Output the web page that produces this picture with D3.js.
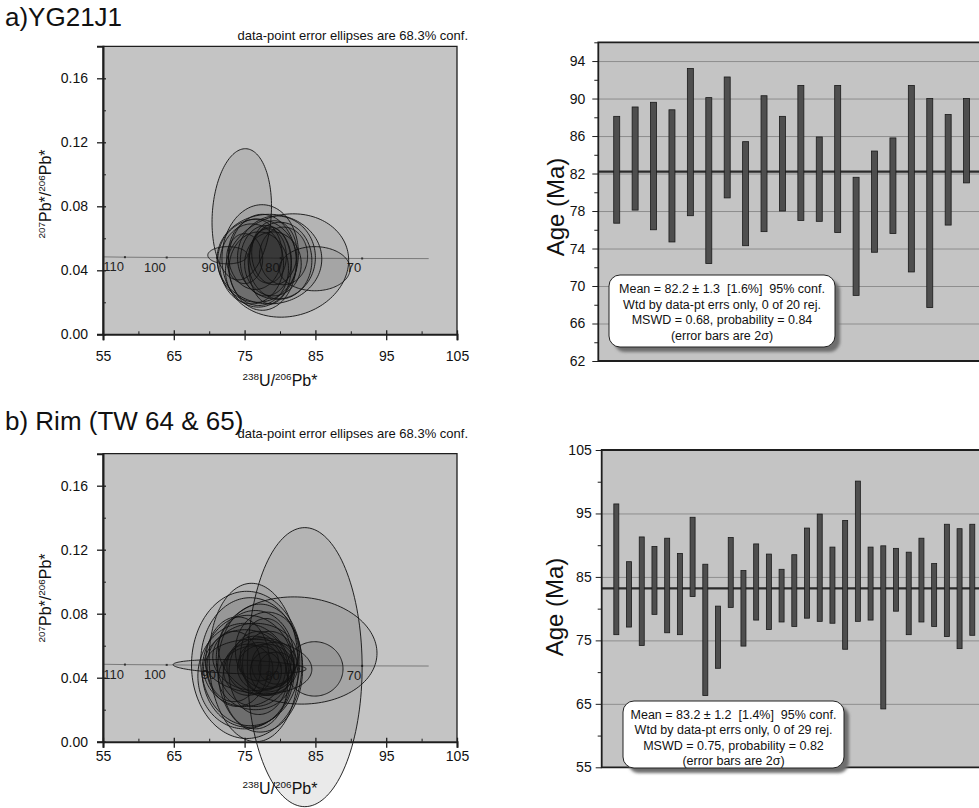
<!DOCTYPE html>
<html>
<head>
<meta charset="utf-8">
<script src="https://cdn.jsdelivr.net/npm/d3@7"></script>
<style>
  body { margin: 0; background: #fff; }
  svg { font-family: "Liberation Sans", Arial, sans-serif; }
</style>
</head>
<body>
<svg id="chart" width="979" height="808"></svg>
<script>
const svg = d3.select('#chart');

// ---- Tera-Wasserburg axes (both left panels) ----
const uTicks = [55, 65, 75, 85, 95, 105];
const uMinor = [60, 70, 80, 90, 100];
const pbTicks = [0.00, 0.04, 0.08, 0.12, 0.16];
const pbMinor = [0.02, 0.06, 0.10, 0.14];

// concordia curve (238U/206Pb, 207Pb/206Pb) and age marks
const concU = [55, 58.1, 64.0, 71.1, 80.1, 91.6, 101.0];
const concPb = [0.0484, 0.0482, 0.0480, 0.0478, 0.0476, 0.0474, 0.0473];
const markAges = [110, 100, 90, 80, 70];
const markU = [58.1, 64.0, 71.1, 80.1, 91.6];
const markPb = [0.0482, 0.0480, 0.0478, 0.0476, 0.0474];

// error ellipses: [238U/206Pb, 207Pb/206Pb, err U/Pb, err Pb/Pb, rho]
const ellipsesA = [
  [74.6, 0.075, 4.2, 0.041, 0.12],
  [81.0, 0.043, 8.7, 0.0323, 0.1],
  [84.9, 0.041, 5.0, 0.0138, 0],
  [72.6, 0.0494, 2.8, 0.0054, 0],
  [75.0, 0.0473, 2.55, 0.0156, 0],
  [77.2, 0.049, 5.4, 0.032, 0.05],
  [78.5, 0.047, 7.4, 0.028, 0],
  [77.5, 0.045, 4.8, 0.030, 0],
  [79.5, 0.048, 5.5, 0.026, 0],
  [76.0, 0.044, 4.5, 0.025, 0],
  [78.0, 0.046, 3.6, 0.022, 0],
  [79.0, 0.044, 4.0, 0.020, 0],
  [76.5, 0.050, 3.8, 0.022, 0],
  [78.3, 0.049, 2.6, 0.017, 0],
  [80.0, 0.046, 4.5, 0.024, 0],
  [77.0, 0.041, 4.2, 0.023, 0],
  [79.2, 0.051, 3.2, 0.020, 0],
  [76.8, 0.046, 5.6, 0.026, 0],
  [78.6, 0.043, 3.0, 0.024, 0],
  [80.5, 0.049, 3.4, 0.018, 0]
];

const ellipsesB = [
  [83.5, 0.0466, 8.1, 0.0872, 0],
  [82.5, 0.057, 11.2, 0.0335, -0.05],
  [84.9, 0.0455, 4.0, 0.017, 0],
  [74.3, 0.0468, 9.4, 0.0045, -0.3],
  [75.3, 0.048, 7.8, 0.046, 0],
  [76.3, 0.0495, 6.3, 0.0495, -0.05],
  [77.0, 0.047, 7.5, 0.017, -0.1],
  [75.8, 0.050, 7.0, 0.040, 0],
  [76.5, 0.052, 5.5, 0.030, 0],
  [75.5, 0.044, 6.5, 0.035, 0],
  [77.5, 0.047, 5.0, 0.018, 0],
  [78.0, 0.046, 4.0, 0.015, 0],
  [75.0, 0.046, 5.8, 0.024, 0],
  [76.5, 0.053, 6.0, 0.021, 0],
  [78.5, 0.049, 3.8, 0.020, 0],
  [77.0, 0.043, 4.2, 0.026, 0],
  [79.0, 0.048, 3.0, 0.014, 0],
  [74.0, 0.050, 4.5, 0.028, 0],
  [76.5, 0.040, 5.2, 0.020, 0],
  [78.0, 0.053, 3.6, 0.024, 0],
  [75.5, 0.045, 3.5, 0.016, 0],
  [77.0, 0.050, 2.8, 0.012, 0],
  [79.5, 0.046, 2.5, 0.010, 0],
  [76.5, 0.037, 4.6, 0.029, 0],
  [73.5, 0.047, 3.8, 0.022, 0],
  [78.2, 0.057, 4.5, 0.024, 0],
  [77.2, 0.046, 6.0, 0.040, 0],
  [75.0, 0.041, 6.6, 0.033, 0],
  [78.0, 0.044, 2.2, 0.012, 0]
];

// ---- weighted mean ages (right panels), 2 sigma bars ----
const ageLoA = [76.7, 78.1, 76.0, 74.7, 77.5, 72.4, 79.4, 74.3, 75.8, 78.0,
                77.0, 76.9, 75.7, 69.0, 73.6, 75.6, 71.5, 67.7, 76.5, 81.0];
const ageHiA = [88.1, 89.1, 89.6, 88.8, 93.2, 90.1, 92.3, 85.4, 90.3, 88.1,
                91.4, 85.9, 91.4, 81.6, 84.4, 85.8, 91.4, 90.0, 88.3, 90.0];
const meanA = 82.2;
const yTicksA = [62, 66, 70, 74, 78, 82, 86, 90, 94];
const yMinorA = [64, 68, 72, 76, 80, 84, 88, 92, 96];
const statsA = ['Mean = 82.2 \u00b1 1.3  [1.6%]  95% conf.',
                'Wtd by data-pt errs only, 0 of 20 rej.',
                'MSWD = 0.68, probability = 0.84',
                '(error bars are 2\u03c3)'];

const ageLoB = [75.9, 77.1, 74.2, 79.1, 76.2, 75.9, 81.9, 66.3, 70.6, 80.2,
                74.1, 78.2, 76.7, 77.9, 77.2, 78.5, 78.0, 77.7, 73.6, 78.0,
                78.2, 64.2, 79.6, 75.9, 77.9, 77.2, 75.6, 73.7, 75.8];
const ageHiB = [96.5, 87.4, 91.3, 89.8, 91.1, 88.7, 94.4, 87.0, 80.4, 91.2,
                86.0, 90.2, 88.6, 86.2, 88.5, 92.7, 94.9, 89.7, 93.9, 100.1,
                89.7, 89.9, 89.5, 88.9, 91.1, 87.1, 93.3, 92.6, 93.3];
const meanB = 83.2;
const yTicksB = [55, 65, 75, 85, 95, 105];
const yMinorB = [60, 70, 80, 90, 100];
const statsB = ['Mean = 83.2 \u00b1 1.2  [1.4%]  95% conf.',
                'Wtd by data-pt errs only, 0 of 29 rej.',
                'MSWD = 0.75, probability = 0.82',
                '(error bars are 2\u03c3)'];

const PLOT_BG = '#c4c4c4';
const INK = '#1e1e1e';

// blur for the stats box shadow
svg.append('defs').append('filter').attr('id', 'blur')
  .append('feGaussianBlur').attr('stdDeviation', 1.6);

// superscript helper: parts = [[text, isSup], ...]
function supText(sel, parts, size) {
  parts.forEach(([t, sup], i) => {
    const prev = i > 0 && parts[i - 1][1];
    sel.append('tspan')
      .attr('font-size', sup ? size * 0.62 : size)
      .attr('dy', sup ? (prev ? 0 : -size * 0.38) : (prev ? size * 0.38 : 0))
      .text(t);
  });
}

// ---------- Tera-Wasserburg panel ----------
function drawTW(cfg) {
  const x = d3.scaleLinear().domain([55, 105]).range([103, 457]);
  const y = d3.scaleLinear().domain([0, 0.18]).range([cfg.y0, cfg.y0 - 288]);
  const g = svg.append('g');

  g.append('text').attr('x', 5).attr('y', cfg.titleY)
    .attr('font-size', 26).attr('fill', '#111').text(cfg.title);
  g.append('text').attr('x', 468).attr('y', cfg.noteY)
    .attr('text-anchor', 'end').attr('font-size', 13).attr('fill', '#111')
    .text('data-point error ellipses are 68.3% conf.');

  g.append('rect').attr('x', x(55)).attr('y', y(0.18))
    .attr('width', x(105) - x(55)).attr('height', y(0) - y(0.18))
    .attr('fill', PLOT_BG);

  // concordia
  const conc = concU.map((u, i) => [x(u), y(concPb[i])]);
  g.append('path').attr('d', d3.line()(conc))
    .attr('fill', 'none').attr('stroke', '#7a7a7a').attr('stroke-width', 1);
  g.selectAll('.mark').data(markAges).join('rect')
    .attr('x', (d, i) => x(markU[i]) - 1).attr('y', (d, i) => y(markPb[i]) - 1)
    .attr('width', 2).attr('height', 2).attr('fill', '#333');
  g.selectAll('.age').data(markAges).join('text')
    .attr('x', (d, i) => x(markU[i]) - 1).attr('y', (d, i) => y(markPb[i]) + 14)
    .attr('text-anchor', 'end').attr('font-size', 13).attr('fill', '#222')
    .text(d => d);

  // error ellipses
  const line = d3.line().curve(d3.curveLinearClosed);
  const steps = d3.range(0, 2 * Math.PI, Math.PI / 72);
  g.selectAll('.ell').data(cfg.ellipses).join('path')
    .attr('d', ([u, pb, su, spb, rho]) => line(steps.map(t => [
      x(u + su * Math.cos(t)),
      y(pb + spb * (rho * Math.cos(t) + Math.sqrt(1 - rho * rho) * Math.sin(t)))
    ])))
    .attr('fill', '#1a1a1a').attr('fill-opacity', 0.09)
    .attr('stroke', '#111').attr('stroke-width', 0.9);

  // frame
  g.append('path')
    .attr('d', `M${x(55)},${y(0)}V${y(0.18)}H${x(105)}V${y(0)}`)
    .attr('fill', 'none').attr('stroke', INK).attr('stroke-width', 1.3);

  // x axis
  const xa = g.append('g').attr('transform', `translate(0,${y(0)})`)
    .call(d3.axisBottom(x).tickValues(uTicks).tickSize(6).tickFormat(d3.format('d')));
  xa.select('.domain').attr('stroke', INK).attr('stroke-width', 2);
  xa.selectAll('.tick line').attr('y1', -4).attr('stroke', INK).attr('stroke-width', 1.3);
  xa.selectAll('.tick text').attr('y', cfg.xLabOff).attr('dy', 0)
    .attr('font-size', 14).attr('font-family', 'Liberation Sans, Arial, sans-serif').attr('fill', '#111');
  g.append('g').attr('transform', `translate(0,${y(0)})`)
    .call(d3.axisBottom(x).tickValues(uMinor).tickSize(-3).tickFormat(''))
    .call(a => a.select('.domain').remove())
    .selectAll('line').attr('stroke', INK);

  // y axis
  const ya = g.append('g').attr('transform', `translate(${x(55)},0)`)
    .call(d3.axisLeft(y).tickValues(pbTicks).tickSize(6).tickPadding(9).tickFormat(d3.format('.2f')));
  ya.select('.domain').attr('stroke', INK).attr('stroke-width', 2);
  ya.selectAll('.tick line').attr('x1', 3).attr('stroke', INK).attr('stroke-width', 1.3);
  ya.selectAll('.tick text').attr('font-size', 14)
    .attr('font-family', 'Liberation Sans, Arial, sans-serif').attr('fill', '#111');
  g.append('g').attr('transform', `translate(${x(55)},0)`)
    .call(d3.axisLeft(y).tickValues(pbMinor).tickSize(-3).tickFormat(''))
    .call(a => a.select('.domain').remove())
    .selectAll('line').attr('stroke', INK);

  // axis titles
  const yt = g.append('text').attr('transform', `translate(51,${cfg.yTitleY}) rotate(-90)`)
    .attr('text-anchor', 'middle').attr('fill', '#111');
  supText(yt, [['207', true], ['Pb*/', false], ['206', true], ['Pb*', false]], 16);
  const xt = g.append('text').attr('x', 280).attr('y', cfg.xTitleY)
    .attr('text-anchor', 'middle').attr('fill', '#111');
  supText(xt, [['238', true], ['U/', false], ['206', true], ['Pb*', false]], 16);
}

// ---------- weighted mean age panel ----------
function drawAges(cfg) {
  const n = cfg.lo.length;
  const x = d3.scaleLinear().domain(cfg.xDom).range([cfg.left, 985]);
  const y = d3.scaleLinear().domain(cfg.yDom).range(cfg.yRange);
  const g = svg.append('g');
  const [yb, yt] = cfg.yRange;

  g.append('rect').attr('x', cfg.left).attr('y', yt)
    .attr('width', 985 - cfg.left).attr('height', yb - yt).attr('fill', PLOT_BG);

  // gridlines
  g.append('g').attr('transform', `translate(${cfg.left},0)`)
    .call(d3.axisLeft(y).tickValues(cfg.ticks.slice(1)).tickSize(-(985 - cfg.left)).tickFormat(''))
    .call(a => a.select('.domain').remove())
    .selectAll('line').attr('stroke', '#8e8e8e').attr('stroke-width', 1);

  // mean
  g.append('line').attr('x1', cfg.left).attr('x2', 985)
    .attr('y1', y(cfg.mean)).attr('y2', y(cfg.mean))
    .attr('stroke', '#2b2b2b').attr('stroke-width', 2.2);

  // 2 sigma bars
  g.selectAll('.bar').data(d3.range(n)).join('rect')
    .attr('x', i => x(i + 1) - cfg.barW / 2).attr('width', cfg.barW)
    .attr('y', i => y(cfg.hi[i])).attr('height', i => y(cfg.lo[i]) - y(cfg.hi[i]))
    .attr('fill', '#4e4e4e').attr('stroke', '#1a1a1a').attr('stroke-width', 0.8);

  // frame: top, left, bottom
  g.append('path').attr('d', `M985,${yt}H${cfg.left}V${yb}H985`)
    .attr('fill', 'none').attr('stroke', INK).attr('stroke-width', 1.8);

  const ya = g.append('g').attr('transform', `translate(${cfg.left},0)`)
    .call(d3.axisLeft(y).tickValues(cfg.ticks).tickSize(6).tickPadding(cfg.pad));
  ya.select('.domain').remove();
  ya.selectAll('.tick line').attr('stroke', INK);
  ya.selectAll('.tick text').attr('font-size', 14)
    .attr('font-family', 'Liberation Sans, Arial, sans-serif').attr('fill', '#111');
  g.append('g').attr('transform', `translate(${cfg.left},0)`)
    .call(d3.axisLeft(y).tickValues(cfg.minor).tickSize(4).tickFormat(''))
    .call(a => a.select('.domain').remove())
    .selectAll('line').attr('stroke', INK);

  g.append('text').attr('transform', `translate(${cfg.titleX},${cfg.titleY}) rotate(-90)`)
    .attr('text-anchor', 'middle').attr('font-size', 24).attr('fill', '#111')
    .text('Age (Ma)');

  // stats box
  const b = cfg.box;
  g.append('rect').attr('x', b.x + 5).attr('y', b.y + 5).attr('width', b.w).attr('height', b.h)
    .attr('rx', 11).attr('fill', '#6e6e6e').attr('filter', 'url(#blur)');
  g.append('rect').attr('x', b.x).attr('y', b.y).attr('width', b.w).attr('height', b.h)
    .attr('rx', 11).attr('fill', '#fff').attr('stroke', '#222').attr('stroke-width', 1);
  g.selectAll('.stat').data(cfg.stats).join('text')
    .attr('x', b.x + b.w / 2).attr('y', (d, i) => b.y + 18 + i * b.step)
    .attr('text-anchor', 'middle').attr('font-size', 12.5).attr('fill', '#111')
    .style('white-space', 'pre').text(d => d);
}

drawTW({ title: 'a)YG21J1', titleY: 26, noteY: 39.5, y0: 334.3, ellipses: ellipsesA,
         xLabOff: 27, yTitleY: 194, xTitleY: 386 });
drawTW({ title: 'b) Rim (TW 64 & 65)', titleY: 430, noteY: 438, y0: 741.7, ellipses: ellipsesB,
         xLabOff: 19.5, yTitleY: 598, xTitleY: 794 });

drawAges({ lo: ageLoA, hi: ageHiA, mean: meanA, xDom: [0, 21], left: 598.3,
           yDom: [62, 96], yRange: [361, 42.3], ticks: yTicksA, minor: yMinorA, pad: 7,
           barW: 6, titleX: 564, titleY: 207, stats: statsA,
           box: { x: 609, y: 275, w: 226, h: 72, step: 15.5 } });
drawAges({ lo: ageLoB, hi: ageHiB, mean: meanB, xDom: [-0.15, 30], left: 601.7,
           yDom: [55, 105], yRange: [767.3, 450], ticks: yTicksB, minor: yMinorB, pad: 4,
           barW: 5, titleX: 563, titleY: 607, stats: statsB,
           box: { x: 623, y: 701, w: 221, h: 67, step: 15.3 } });
</script>
</body>
</html>
